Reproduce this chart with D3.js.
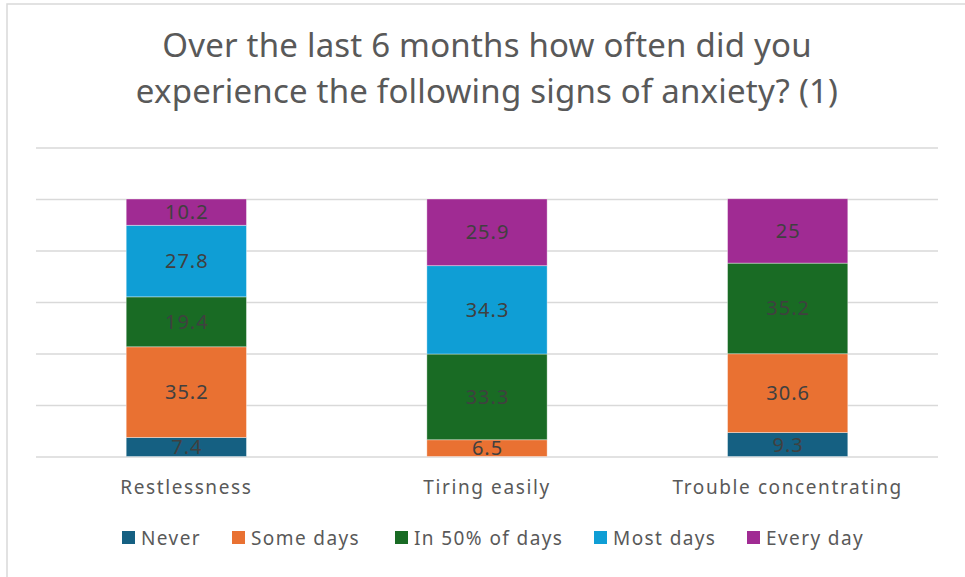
<!DOCTYPE html>
<html>
<head>
<meta charset="utf-8">
<script src="https://cdn.jsdelivr.net/npm/d3@7/dist/d3.min.js"></script>
<style>
  html, body { margin: 0; padding: 0; background: #fff; }
  svg { display: block; }
</style>
</head>
<body>
<svg id="chart" width="965" height="577"></svg>
<script>
// Survey categories and answer frequencies (percent of respondents)
const categories = ["Restlessness", "Tiring easily", "Trouble concentrating"];
const seriesNames = ["Never", "Some days", "In 50% of days", "Most days", "Every day"];
const never       = [7.4, 0, 9.3];
const someDays    = [35.2, 6.5, 30.6];
const halfDays    = [19.4, 33.3, 35.2];
const mostDays    = [27.8, 34.3, 0];
const everyDay    = [10.2, 25.9, 25];
const gridTicks   = [0, 20, 40, 60, 80, 100, 120];
const titleLines  = ["Over the last 6 months how often did you",
                     "experience the following signs of anxiety? (1)"];
const colors      = ["#156082", "#E97132", "#196B24", "#0F9ED5", "#A02B93"];

const seriesValues = [never, someDays, halfDays, mostDays, everyDay];
const rows = categories.map((c, i) => {
  const r = { category: c };
  seriesNames.forEach((s, k) => { r[s] = seriesValues[k][i]; });
  return r;
});

const svg = d3.select("#chart");
const font = "'Noto Sans', 'Open Sans', sans-serif";

// chart frame
svg.append("rect")
  .attr("x", 7).attr("y", 4)
  .attr("width", 1000).attr("height", 600)
  .attr("fill", "#fff")
  .attr("stroke", "#d9d9d9").attr("stroke-width", 1.5);

// title
svg.append("g").selectAll("text")
  .data(titleLines).join("text")
  .attr("x", 487).attr("y", (d, i) => 57 + i * 46)
  .attr("text-anchor", "middle")
  .attr("font-family", font).attr("font-size", 33)
  .attr("letter-spacing", 0.2)
  .attr("fill", "#595959")
  .text(d => d);

const plot = { left: 36, right: 938, top: 147.5, bottom: 456.5 };

const x = d3.scaleBand()
  .domain(categories)
  .range([plot.left, plot.right])
  .paddingInner(0.6).paddingOuter(0.3);

const y = d3.scaleLinear()
  .domain([0, 120])
  .range([plot.bottom, plot.top]);

// horizontal gridlines
svg.append("g")
  .attr("transform", `translate(${plot.left},0)`)
  .call(d3.axisLeft(y).tickValues(gridTicks).tickSize(-(plot.right - plot.left)).tickFormat(""))
  .call(g => g.select(".domain").remove())
  .call(g => g.selectAll(".tick line").attr("stroke", "#d9d9d9").attr("stroke-width", 1.5));

// stacked bars
const stacked = d3.stack().keys(seriesNames)(rows);

const layers = svg.append("g").selectAll("g")
  .data(stacked).join("g")
  .attr("fill", (d, i) => colors[i]);

layers.selectAll("rect")
  .data(d => d.filter(p => p[1] - p[0] > 0))
  .join("rect")
  .attr("x", d => x(d.data.category))
  .attr("width", x.bandwidth())
  .attr("y", d => y(d[1]))
  .attr("height", d => y(d[0]) - y(d[1]))
  .attr("stroke", "rgba(255,255,255,0.5)")
  .attr("stroke-width", 0.75);

// value labels
layers.selectAll("text")
  .data(d => d.filter(p => p[1] - p[0] > 0).map(p => ({ p, key: d.key })))
  .join("text")
  .attr("x", d => x(d.p.data.category) + x.bandwidth() / 2 + 0.5)
  .attr("y", d => y((d.p[0] + d.p[1]) / 2))
  .attr("dy", "0.35em")
  .attr("text-anchor", "middle")
  .attr("font-family", font).attr("font-size", 20)
  .attr("letter-spacing", 1)
  .attr("fill", "#404040")
  .text(d => d.p.data[d.key]);

// category axis labels
svg.append("g")
  .attr("transform", `translate(0,${plot.bottom})`)
  .call(d3.axisBottom(x).tickSize(0).tickPadding(37))
  .call(g => g.select(".domain").remove())
  .call(g => g.selectAll("text")
    .attr("font-family", font).attr("font-size", 19)
    .attr("letter-spacing", 1.6)
    .attr("fill", "#595959").attr("dy", "0"));

// legend
const legendX = [122, 232, 395, 594, 747];
const legend = svg.append("g").selectAll("g")
  .data(seriesNames).join("g")
  .attr("transform", (d, i) => `translate(${legendX[i]},531)`);
legend.append("rect")
  .attr("width", 13).attr("height", 13)
  .attr("fill", (d, i) => colors[i]);
legend.append("text")
  .attr("x", 19).attr("y", 14)
  .attr("font-family", font).attr("font-size", 19)
  .attr("letter-spacing", 1.4)
  .attr("fill", "#595959")
  .text(d => d);
</script>
</body>
</html>
